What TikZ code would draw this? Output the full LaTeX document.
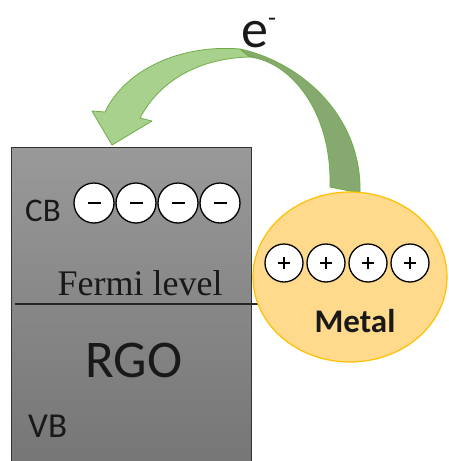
\documentclass[tikz,border=0pt]{standalone}
\usepackage{fontspec}
\setmainfont{Carlito}
\newfontfamily\serifx{Liberation Serif}
\usetikzlibrary{shapes.geometric}
\definecolor{greenlight}{HTML}{A9D18E}
\definecolor{greenedge}{HTML}{70AD47}
\definecolor{greendark}{HTML}{85A96E}
\definecolor{metalfill}{HTML}{FFD98C}
\definecolor{metaledge}{HTML}{FFC000}
\pgfdeclareradialshading{ballshade}{\pgfpoint{0bp}{0bp}}{color(0bp)=(white); color(33bp)=(white); color(45bp)=(black!30); color(50bp)=(black!45); color(100bp)=(black!45)}
\tikzset{
  ball/.style={circle, draw=black, line width=1.3pt, minimum size=40pt, inner sep=0pt, shading=ballshade},
  minusball/.style={ball, path picture={\draw[line width=1.2pt] ([xshift=-6.5pt]path picture bounding box.center) -- ([xshift=6.5pt]path picture bounding box.center);}},
  plusball/.style={ball, minimum size=38pt, path picture={\draw[line width=1.2pt] ([xshift=-6pt]path picture bounding box.center) -- ([xshift=6pt]path picture bounding box.center) ([yshift=-6pt]path picture bounding box.center) -- ([yshift=6pt]path picture bounding box.center);}},
  lbl/.style={inner sep=0pt, text=black!90},
  arrowpart/.style={draw=greenedge, line width=0.8pt, line join=round}
}
\begin{document}
\begin{tikzpicture}[x=1pt,y=-1pt]
\useasboundingbox (0,0) rectangle (448,461);
\clip (0,0) rectangle (448,461);
\fill[white] (0,0) rectangle (448,461);
% RGO box
\node[draw=black!80, line width=1.2pt, anchor=north west, minimum width=240pt, minimum height=323pt, inner sep=0pt, top color=black!40, bottom color=black!54] (box) at (11,147) {};
% Fermi line
\coordinate (fa) at (15,304);
\coordinate (fb) at (262,304);
\draw[line width=1.8pt, black!85] (fa) -- (fb);
% curved arrow
\draw[arrowpart, fill=greenlight] (112,145) -- (152,121) -- (140,118) .. controls (160,80) and (200,58) .. (250,57) -- (240,49) .. controls (180,44) and (125,70) .. (105,112) -- (92,111) -- cycle;
\draw[arrowpart, fill=greendark] (240,49) .. controls (300,62) and (362,115) .. (360,193) -- (330,187) .. controls (332,110) and (290,62) .. (250,57) -- cycle;
% metal
\node[ellipse, draw=metaledge, line width=1.2pt, fill=metalfill, minimum width=194pt, minimum height=170pt, inner sep=0pt] (metal) at (350,277) {};
% texts
\node[lbl, anchor=base west, font=\fontsize{33}{33}\selectfont] (cb) at (25,221) {CB};
\node[lbl, anchor=base, font=\serifx\fontsize{36}{36}\selectfont] (fermi) at (140,295) {Fermi level};
\node[lbl, anchor=base, font=\fontsize{53}{53}\selectfont] (rgo) at (134,377) {RGO};
\node[lbl, anchor=base west, font=\fontsize{35}{35}\selectfont] (vb) at (28,437) {VB};
\node[lbl, anchor=base, font=\bfseries\fontsize{33}{33}\selectfont] (metaltxt) at (355,332) {Metal};
\node[lbl, anchor=base west, font=\fontsize{54}{54}\selectfont] (e) at (241,47) {e\raisebox{21pt}{\fontsize{26}{26}\selectfont -}};
% electrons
\node[minusball] (m1) at (94,203) {};
\node[minusball] (m2) at (136,203) {};
\node[minusball] (m3) at (178,203) {};
\node[minusball] (m4) at (220,203) {};
% holes
\node[plusball] (p1) at (284,263) {};
\node[plusball] (p2) at (326,263) {};
\node[plusball] (p3) at (368,263) {};
\node[plusball] (p4) at (410,263) {};
\end{tikzpicture}
\end{document}
